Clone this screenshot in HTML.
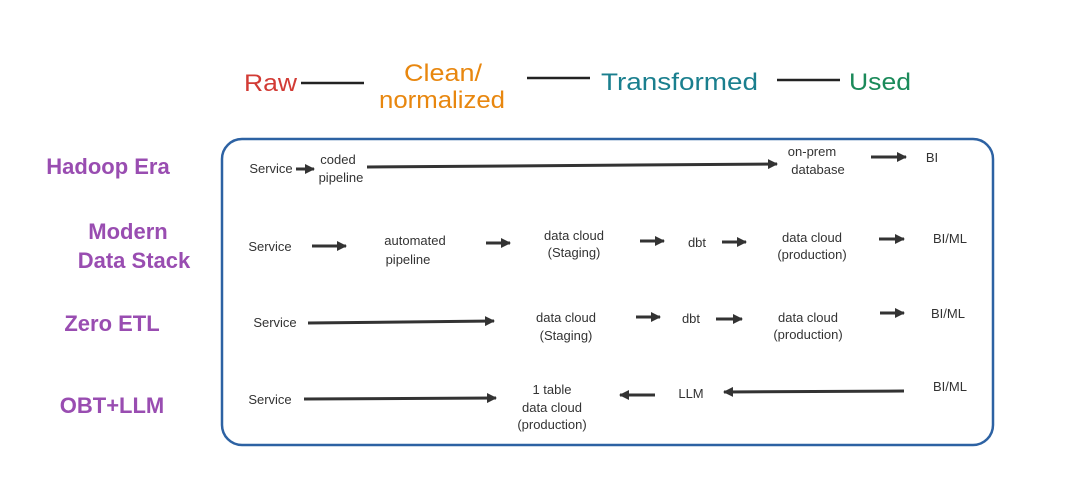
<!DOCTYPE html>
<html><head><meta charset="utf-8"><style>
html,body{margin:0;padding:0;background:#fff;}
svg{display:block}
text{font-family:"Liberation Sans",sans-serif}
</style></head><body>
<svg width="1080" height="489" viewBox="0 0 1080 489" xmlns="http://www.w3.org/2000/svg">
<defs><marker id="a" markerWidth="10" markerHeight="10" refX="9" refY="5" orient="auto" markerUnits="userSpaceOnUse"><path d="M0,0 L10,5 L0,10 Z" fill="#333"/></marker></defs>
<rect width="1080" height="489" fill="#fff"/>
<g font-size="24">
<text x="244" y="91" fill="#d23b35" textLength="53" lengthAdjust="spacingAndGlyphs">Raw</text>
<text x="404" y="81" fill="#e8870f" textLength="78" lengthAdjust="spacingAndGlyphs">Clean/</text>
<text x="379" y="108" fill="#e8870f" textLength="126" lengthAdjust="spacingAndGlyphs">normalized</text>
<text x="601" y="90" fill="#1a7f8e" textLength="157" lengthAdjust="spacingAndGlyphs">Transformed</text>
<text x="849" y="90" fill="#1b8a5a" textLength="62" lengthAdjust="spacingAndGlyphs">Used</text>
</g>
<g stroke="#222" stroke-width="2.5">
<line x1="301" y1="83" x2="364" y2="83"/>
<line x1="527" y1="78" x2="590" y2="78"/>
<line x1="777" y1="80" x2="840" y2="80"/>
</g>
<g font-size="22" fill="#8e3aa8" text-anchor="middle" font-weight="bold" fill-opacity="0.9">
<text x="108" y="174">Hadoop Era</text>
<text x="128" y="239">Modern</text>
<text x="134" y="268">Data Stack</text>
<text x="112" y="331">Zero ETL</text>
<text x="112" y="413">OBT+LLM</text>
</g>
<rect x="222" y="139" width="771" height="306" rx="20" fill="none" stroke="#2d62a3" stroke-width="2.5"/>
<g stroke="#333" stroke-width="3" marker-end="url(#a)">
<line x1="296" y1="169" x2="314" y2="169"/>
<line x1="367" y1="167" x2="777" y2="164"/>
<line x1="871" y1="157" x2="906" y2="157"/>
<line x1="312" y1="246" x2="346" y2="246"/>
<line x1="486" y1="243" x2="510" y2="243"/>
<line x1="640" y1="241" x2="664" y2="241"/>
<line x1="722" y1="242" x2="746" y2="242"/>
<line x1="879" y1="239" x2="904" y2="239"/>
<line x1="308" y1="323" x2="494" y2="321"/>
<line x1="636" y1="317" x2="660" y2="317"/>
<line x1="716" y1="319" x2="742" y2="319"/>
<line x1="880" y1="313" x2="904" y2="313"/>
<line x1="304" y1="399" x2="496" y2="398"/>
<line x1="655" y1="395" x2="620" y2="395"/>
<line x1="904" y1="391" x2="724" y2="392"/>
</g>
<g font-size="13" fill="#333" text-anchor="middle">
<text x="271" y="173">Service</text>
<text x="338" y="164">coded</text><text x="341" y="182">pipeline</text>
<text x="812" y="156">on-prem</text><text x="818" y="174">database</text>
<text x="932" y="162">BI</text>
<text x="270" y="251">Service</text>
<text x="415" y="245">automated</text><text x="408" y="264">pipeline</text>
<text x="574" y="240">data cloud</text><text x="574" y="257">(Staging)</text>
<text x="697" y="247">dbt</text>
<text x="812" y="242">data cloud</text><text x="812" y="259">(production)</text>
<text x="950" y="243">BI/ML</text>
<text x="275" y="327">Service</text>
<text x="566" y="322">data cloud</text><text x="566" y="340">(Staging)</text>
<text x="691" y="323">dbt</text>
<text x="808" y="322">data cloud</text><text x="808" y="339">(production)</text>
<text x="948" y="318">BI/ML</text>
<text x="270" y="404">Service</text>
<text x="552" y="394">1 table</text><text x="552" y="412">data cloud</text><text x="552" y="429">(production)</text>
<text x="691" y="398">LLM</text>
<text x="950" y="391">BI/ML</text>
</g>
</svg>
</body></html>
